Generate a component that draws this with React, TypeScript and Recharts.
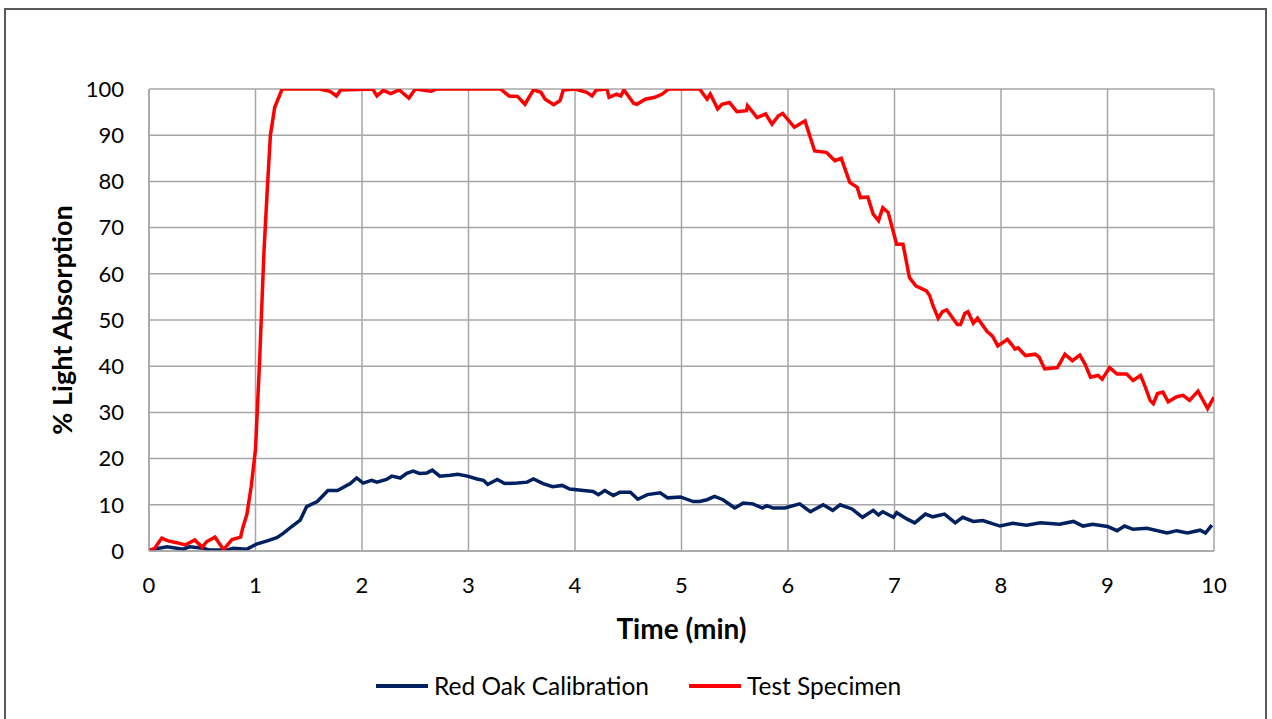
import { LineChart, Line, XAxis, YAxis, CartesianGrid } from "recharts";

// Test Specimen (red) — time in min, % light absorption
const redT = [0, 0.05, 0.12, 0.18, 0.26, 0.34, 0.43, 0.5, 0.54, 0.62, 0.7, 0.78, 0.86, 0.88, 0.92, 0.96, 1.0, 1.04, 1.08, 1.11, 1.14, 1.18, 1.25, 1.6, 1.7, 1.76, 1.8, 2.1, 2.14, 2.2, 2.27, 2.35, 2.44, 2.5, 2.65, 2.7, 3.3, 3.38, 3.46, 3.53, 3.61, 3.68, 3.72, 3.8, 3.86, 3.89, 4.0, 4.11, 4.16, 4.2, 4.3, 4.32, 4.39, 4.43, 4.46, 4.55, 4.58, 4.66, 4.75, 4.82, 4.88, 5.17, 5.24, 5.27, 5.34, 5.38, 5.45, 5.52, 5.61, 5.62, 5.71, 5.79, 5.85, 5.91, 5.95, 6.06, 6.16, 6.25, 6.36, 6.44, 6.5, 6.58, 6.65, 6.68, 6.75, 6.8, 6.85, 6.89, 6.94, 7.02, 7.08, 7.14, 7.2, 7.3, 7.33, 7.36, 7.41, 7.45, 7.49, 7.59, 7.62, 7.66, 7.69, 7.74, 7.78, 7.87, 7.92, 7.97, 8.06, 8.11, 8.13, 8.16, 8.23, 8.32, 8.36, 8.41, 8.53, 8.6, 8.67, 8.74, 8.79, 8.84, 8.91, 8.95, 9.02, 9.09, 9.18, 9.24, 9.31, 9.35, 9.4, 9.43, 9.47, 9.52, 9.57, 9.65, 9.71, 9.77, 9.85, 9.94, 10.0];
const redV = [0, 0.5, 2.8, 2.2, 1.8, 1.3, 2.4, 0.8, 2.0, 3.0, 0.3, 2.5, 3.0, 5, 8, 14, 22, 42, 65, 78, 90, 96, 100, 100, 99.5, 98.5, 99.8, 100, 98.5, 99.7, 99, 99.8, 98, 100, 99.5, 100, 100, 98.5, 98.4, 96.7, 99.8, 99.3, 97.8, 96.6, 97.5, 99.8, 100, 99.3, 98.5, 99.8, 100, 98.2, 98.9, 98.5, 99.8, 96.9, 96.7, 97.8, 98.2, 98.9, 100, 100, 97.8, 98.9, 95.7, 96.7, 97.1, 95.1, 95.3, 96.4, 93.8, 94.6, 92.4, 94.2, 94.7, 91.7, 93.1, 86.6, 86.3, 84.5, 85, 79.8, 78.7, 76.5, 76.6, 72.9, 71.5, 74.3, 73.3, 66.4, 66.4, 59.2, 57.4, 56.3, 55.3, 53.2, 50.4, 51.8, 52.2, 49, 49, 51.4, 51.8, 49.3, 50.4, 47.5, 46.5, 44.4, 45.8, 44.4, 43.7, 44, 42.3, 42.6, 41.9, 39.4, 39.7, 42.6, 41.2, 42.4, 40.4, 37.6, 38, 37.2, 39.7, 38.3, 38.3, 36.9, 38, 35.8, 32.6, 31.9, 34.1, 34.4, 32.3, 33.4, 33.7, 32.6, 34.6, 30.8, 33.3];

// Red Oak Calibration (dark blue)
const blueT = [0, 0.17, 0.32, 0.38, 0.51, 0.57, 0.73, 0.79, 0.92, 1.01, 1.11, 1.2, 1.26, 1.34, 1.42, 1.48, 1.58, 1.68, 1.77, 1.89, 1.95, 2.01, 2.09, 2.14, 2.23, 2.28, 2.36, 2.42, 2.48, 2.54, 2.61, 2.66, 2.73, 2.83, 2.9, 2.99, 3.08, 3.14, 3.18, 3.27, 3.34, 3.46, 3.55, 3.61, 3.7, 3.79, 3.88, 3.95, 4.08, 4.17, 4.22, 4.28, 4.36, 4.42, 4.52, 4.59, 4.68, 4.8, 4.87, 4.99, 5.11, 5.17, 5.24, 5.31, 5.39, 5.5, 5.58, 5.67, 5.76, 5.8, 5.86, 5.97, 6.11, 6.21, 6.33, 6.42, 6.49, 6.6, 6.7, 6.8, 6.85, 6.89, 6.99, 7.02, 7.12, 7.19, 7.29, 7.36, 7.47, 7.57, 7.64, 7.74, 7.83, 7.99, 8.11, 8.24, 8.37, 8.55, 8.68, 8.77, 8.86, 9.0, 9.09, 9.16, 9.24, 9.37, 9.56, 9.65, 9.75, 9.87, 9.92, 9.98];
const blueV = [0.2, 0.9, 0.4, 0.9, 0.6, 0.2, 0.2, 0.6, 0.4, 1.5, 2.2, 2.9, 3.8, 5.3, 6.7, 9.6, 10.7, 13.1, 13.1, 14.6, 15.8, 14.7, 15.3, 14.9, 15.5, 16.2, 15.8, 16.8, 17.3, 16.8, 16.9, 17.5, 16.2, 16.4, 16.6, 16.2, 15.6, 15.3, 14.4, 15.5, 14.6, 14.7, 14.9, 15.6, 14.6, 13.9, 14.2, 13.4, 13.1, 12.9, 12.2, 13.1, 12.0, 12.7, 12.7, 11.2, 12.2, 12.6, 11.5, 11.7, 10.7, 10.7, 11.1, 11.8, 11.1, 9.3, 10.4, 10.2, 9.3, 9.8, 9.3, 9.3, 10.2, 8.5, 10.0, 8.8, 10.0, 9.1, 7.3, 8.8, 7.8, 8.5, 7.3, 8.3, 6.9, 6.1, 8.0, 7.4, 8.0, 6.1, 7.3, 6.4, 6.6, 5.4, 6.0, 5.6, 6.1, 5.8, 6.4, 5.4, 5.8, 5.3, 4.4, 5.4, 4.7, 4.9, 3.9, 4.4, 3.9, 4.5, 3.9, 5.6];

const xTicks = [0, 1, 2, 3, 4, 5, 6, 7, 8, 9, 10];
const yTicks = [0, 10, 20, 30, 40, 50, 60, 70, 80, 90, 100];

const redData = redT.map((t, i) => ({ t, v: redV[i] }));
const blueData = blueT.map((t, i) => ({ t, v: blueV[i] }));

const FONT = "Lato, 'Open Sans', sans-serif";
const GRID = "#a6a6a6";
const BLUE = "#002060";
const RED = "#ff0000";

export default function App() {
  return (
    <div style={{ position: "absolute", left: 0, top: 0, width: 1272, height: 719, overflow: "hidden", background: "#fff", fontFamily: FONT }}>
      <div style={{ position: "absolute", left: 4, top: 8, width: 1263, height: 730, border: "2px solid #595959", boxSizing: "border-box" }} />
      <LineChart width={1272} height={719} margin={{ top: 89, right: 58, bottom: 0, left: 0 }} style={{ position: "absolute", left: 0, top: 0 }}>
        <CartesianGrid stroke={GRID} strokeWidth={1.5} horizontalValues={yTicks} verticalValues={xTicks} />
        <XAxis type="number" dataKey="t" domain={[0, 10]} ticks={xTicks} height={168} tickLine={false} tickSize={6} tickMargin={20}
          axisLine={{ stroke: GRID, strokeWidth: 1.5 }} tick={{ fill: "#000", fontSize: 22, fontFamily: FONT }} allowDataOverflow
          label={{ value: "Time (min)", position: "insideTop", offset: 68, fill: "#000", fontSize: 28, fontWeight: 700, fontFamily: FONT }} />
        <YAxis type="number" domain={[0, 100]} ticks={yTicks} width={149} tickLine={false} tickSize={6} tickMargin={19}
          axisLine={{ stroke: GRID, strokeWidth: 1.5 }} tick={{ fill: "#000", fontSize: 22, fontFamily: FONT }} allowDataOverflow
          label={{ content: () => (
            <text x={61} y={320} transform="rotate(-90 61 320)" textAnchor="middle" dominantBaseline="central" fill="#000" fontSize={27} fontWeight={700} fontFamily={FONT}>
              % Light Absorption
            </text>
          ) }} />
        <Line data={blueData} dataKey="v" name="Red Oak Calibration" type="linear" stroke={BLUE} strokeWidth={3.5} dot={false} isAnimationActive={false} />
        <Line data={redData} dataKey="v" name="Test Specimen" type="linear" stroke={RED} strokeWidth={3.5} dot={false} isAnimationActive={false} />
      </LineChart>
      <div style={{ position: "absolute", top: 671, left: 376, display: "flex", alignItems: "center", fontSize: 24.5, color: "#000" }}>
        {[{ n: "Red Oak Calibration", c: BLUE }, { n: "Test Specimen", c: RED }].map((it, i) => (
          <div key={it.n} style={{ display: "flex", alignItems: "center", gap: 6, marginLeft: i ? 40 : 0 }}>
            <div style={{ width: 52, height: 4, background: it.c }} />
            <span>{it.n}</span>
          </div>
        ))}
      </div>
    </div>
  );
}
